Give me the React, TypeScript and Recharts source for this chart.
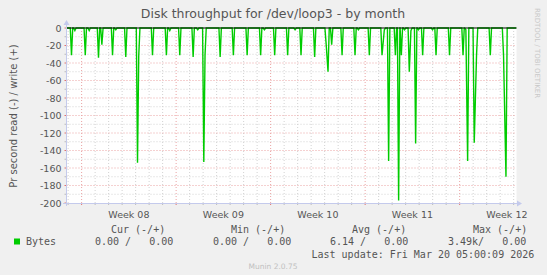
import React from "react";
import {
  ComposedChart,
  Line,
  XAxis,
  YAxis,
  CartesianGrid,
  ReferenceLine,
} from "recharts";

// days since Mon Feb 16 2026 (start of Week 08)
const spikeDays = [
  -0.75, -0.5, 0.27, 0.56, 1.25, 1.5, 2.29, 2.53, 3.27, 4.14, 4.23, 5.25,
  6.28, 6.53, 7.27, 8.26, 8.6, 9.05, 9.14, 10.26, 11.24, 12.26, 13.26, 13.54,
  14.3, 15.26, 15.81, 16.25, 17.26, 18.11, 18.25, 18.52, 19.29, 20.25, 20.5,
  21.31, 22.25, 22.42, 22.74, 23.24, 23.48, 23.68, 23.92, 24.27, 24.39, 24.74,
  24.95, 25.26, 25.99, 26.25, 27.25, 28.25, 28.46, 28.59, 29.08, 29.25, 30.27,
  31.25, 31.43,
];
const spikeValues = [
  -31, -3, -31, -3, -34, -19, -31, -2, -33, -154, -32, -31,
  -31, -3, -31, -33, -2, -153, -31, -33, -31, -31, -31, -2,
  -31, -31, -2, -31, -33, -18, -50, -19, -31, -31, -2,
  -31, -31, -2, -152, -31, -197, -31, -2, -50, -3, -132,
  -2, -31, -2, -31, -31, -31, -2, -152, -131, -31, -31,
  -31, -170,
];

const weekStarts = [0, 7, 14, 21, 28];
const weekMids = [3.5, 10.5, 17.5, 24.5, 31.5];
const weekLabels = ["Week 08", "Week 09", "Week 10", "Week 11", "Week 12"];
const yTicks = [0, -20, -40, -60, -80, -100, -120, -140, -160, -180, -200];

const legendHeads = ["Cur (-/+)", "Min (-/+)", "Avg (-/+)", "Max (-/+)"];
const legendValues = ["0.00 /   0.00", "0.00 /   0.00", "6.14 /   0.00", "3.49k/   0.00"];

const X_MIN = -1.12;
const X_MAX = 32.21;
const STEP = 0.09; // ~2h samples

const buildSeries = () => {
  const pts: { t: number; v: number }[] = [{ t: X_MIN, v: 0 }];
  spikeDays.forEach((d, i) => {
    const prev = spikeDays[i - 1];
    const next = spikeDays[i + 1];
    if (prev === undefined || d - prev > 2 * STEP) pts.push({ t: d - STEP, v: 0 });
    pts.push({ t: d, v: spikeValues[i] });
    if (next === undefined || next - d > 2 * STEP) pts.push({ t: d + STEP, v: 0 });
  });
  pts.push({ t: X_MAX, v: 0 });
  return pts;
};
const data = buildSeries();

const allDays: number[] = [];
for (let d = -1; d <= 32; d++) allDays.push(d);
const minorDays = allDays.filter((d) => d % 7 !== 0);
const minorY: number[] = [];
for (let v = -10; v >= -190; v -= 20) minorY.push(v);

const FONT = "'DejaVu Sans', sans-serif";
const MONO = "'DejaVu Sans Mono', monospace";
const TXT = "#555";
const RED = "#eaa3a3";
const GREY = "#d2d2d2";
const AXIS = "#c4caec";

const XTick = (props: any) => {
  const { x, y, payload } = props;
  const v = payload.value;
  const i = weekMids.indexOf(v);
  if (i >= 0) {
    return (
      <text x={x} y={y + 11} textAnchor="middle" dominantBaseline="central" fontSize={9.5} fontFamily={FONT} fill={TXT}>
        {weekLabels[i]}
      </text>
    );
  }
  return <line x1={x} x2={x} y1={y} y2={y + 2} stroke={v % 7 === 0 ? "#e07070" : "#bbb"} />;
};

const YTick = (props: any) => {
  const { x, y, payload } = props;
  const v = payload.value;
  if (v % 20 !== 0) return <line x1={x - 2} x2={x} y1={y} y2={y} stroke="#bbb" />;
  return (
    <g>
      <line x1={x - 2} x2={x} y1={y} y2={y} stroke="#e07070" />
      <text x={x - 5} y={y} textAnchor="end" dominantBaseline="central" fontSize={9.5} fontFamily={FONT} fill={TXT}>
        {v}
      </text>
    </g>
  );
};

const yAll = [...yTicks, ...minorY];

export default function App() {
  const colX = [111, 231, 352, 473];
  const valX = [95, 213, 330, 448];
  return (
    <div style={{ position: "absolute", left: 0, top: 0, width: 547, height: 275, background: "#f0f0f0" }}>
      <ComposedChart width={547} height={275} data={data} margin={{ top: 28, right: 30.5, bottom: 52, left: 0 }}>
        <CartesianGrid
          fill="#fff"
          stroke={GREY}
          strokeDasharray="1 2"
          verticalValues={minorDays}
          horizontalValues={minorY}
        />
        <CartesianGrid
          stroke={RED}
          strokeDasharray="1 2"
          verticalValues={weekStarts}
          horizontalValues={yTicks.slice(1, -1)}
        />
        <XAxis
          dataKey="t"
          type="number"
          domain={[X_MIN, X_MAX]}
          allowDataOverflow
          ticks={[...allDays, ...weekMids].sort((a, b) => a - b)}
          interval={0}
          tick={<XTick />}
          tickLine={false}
          tickSize={0}
          tickMargin={0}
          axisLine={false}
          height={20}
        />
        <YAxis
          type="number"
          domain={[-200, 0]}
          ticks={yAll}
          interval={0}
          tick={<YTick />}
          tickLine={false}
          tickSize={0}
          tickMargin={0}
          axisLine={false}
          width={66.5}
        />
        <Line
          type="linear"
          dataKey="v"
          stroke="#00cc00"
          strokeWidth={1.4}
          dot={false}
          activeDot={false}
          isAnimationActive={false}
        />
        <ReferenceLine y={0} stroke="#000" strokeWidth={1} />
      </ComposedChart>

      <svg width={547} height={275} style={{ position: "absolute", left: 0, top: 0, pointerEvents: "none" }}>
        <line x1={66.5} x2={66.5} y1={24} y2={206} stroke={AXIS} />
        <polygon points="63.5,25 69.5,25 66.5,20" fill={AXIS} />
        <line x1={63} x2={518} y1={203.5} y2={203.5} stroke={AXIS} />
        <polygon points="517,200.5 517,206.5 522,203.5" fill={AXIS} />

        <text x={273} y={18} textAnchor="middle" fontSize={12.5} fontFamily={FONT} fill={TXT}>
          Disk throughput for /dev/loop3 - by month
        </text>
        <text
          transform="translate(13,116) rotate(-90)"
          textAnchor="middle"
          dominantBaseline="central"
          fontSize={10}
          fontFamily={FONT}
          fill={TXT}
        >
          Pr second read (-) / write (+)
        </text>
        <text
          transform="translate(537,53) rotate(90)"
          textAnchor="middle"
          dominantBaseline="central"
          fontSize={7}
          fontFamily={FONT}
          fill="#c8c8c8"
        >
          RRDTOOL / TOBI OETIKER
        </text>

        {legendHeads.map((h, i) => (
          <text key={h} x={colX[i]} y={229} dominantBaseline="central" fontSize={10} fontFamily={MONO} fill={TXT} xmlSpace="preserve">
            {h}
          </text>
        ))}
        <rect x={14} y={238.5} width={6} height={6} fill="#00cc00" />
        <text x={26} y={241.5} dominantBaseline="central" fontSize={10} fontFamily={MONO} fill={TXT}>
          Bytes
        </text>
        {legendValues.map((v, i) => (
          <text key={i} x={valX[i]} y={241.5} dominantBaseline="central" fontSize={10} fontFamily={MONO} fill={TXT} style={{ whiteSpace: "pre" }}>
            {v}
          </text>
        ))}
        <text x={311.5} y={254} dominantBaseline="central" fontSize={10} fontFamily={MONO} fill={TXT}>
          Last update: Fri Mar 20 05:00:09 2026
        </text>
        <text x={273} y={266.5} textAnchor="middle" dominantBaseline="central" fontSize={7.5} fontFamily={FONT} fill="#c0c0c0">
          Munin 2.0.75
        </text>
      </svg>
    </div>
  );
}
